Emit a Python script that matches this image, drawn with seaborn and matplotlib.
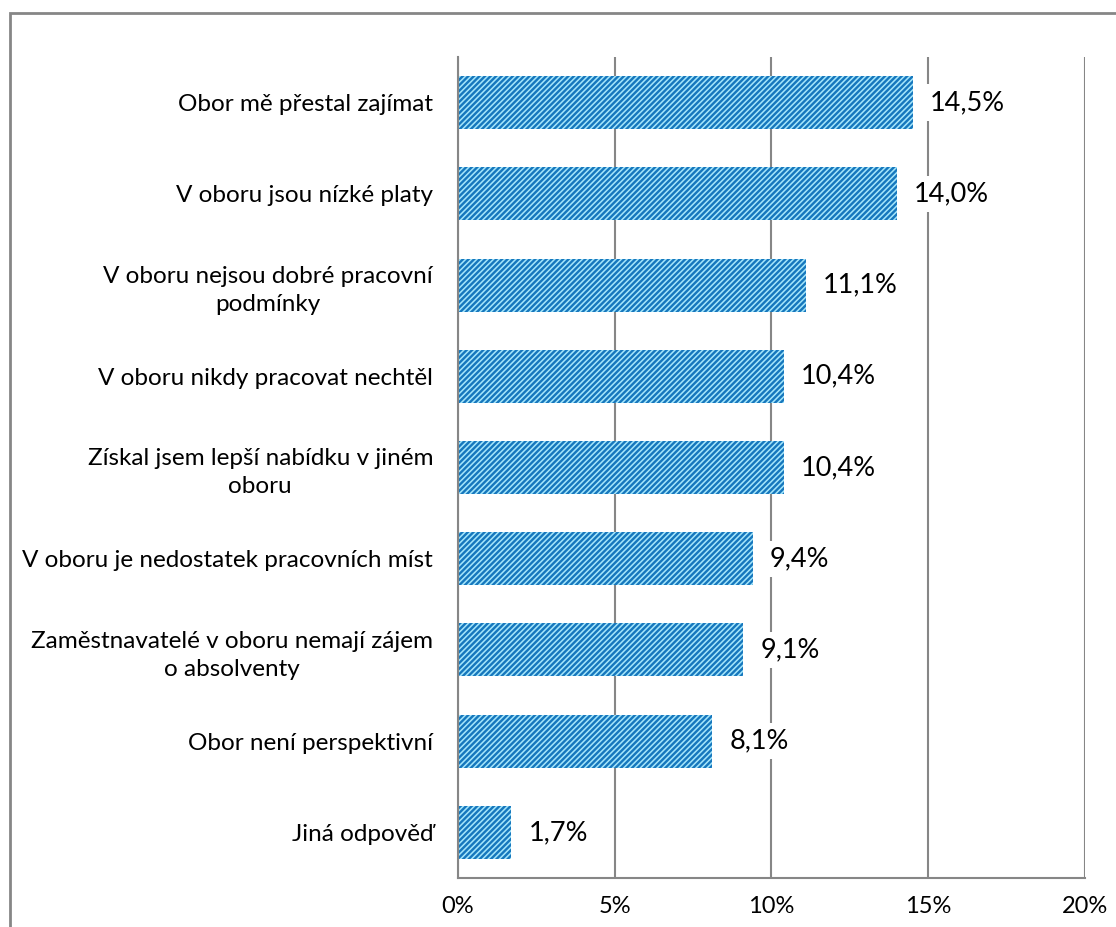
import matplotlib
matplotlib.use("Agg")
import matplotlib.pyplot as plt
import seaborn as sns
import pandas as pd
from matplotlib.patches import Rectangle

categories = [
    "Obor mě přestal zajímat",
    "V oboru jsou nízké platy",
    "V oboru nejsou dobré pracovní\npodmínky",
    "V oboru nikdy pracovat nechtěl",
    "Získal jsem lepší nabídku v jiném\noboru",
    "V oboru je nedostatek pracovních míst",
    "Zaměstnavatelé v oboru nemají zájem\no absolventy",
    "Obor není perspektivní",
    "Jiná odpověď",
]
values = [14.5, 14.0, 11.1, 10.4, 10.4, 9.4, 9.1, 8.1, 1.7]
xticks = [0, 5, 10, 15, 20]
xtick_labels = ["0%", "5%", "10%", "15%", "20%"]

sns.set_style("white")
plt.rcParams["font.family"] = ["Lato", "DejaVu Sans"]
plt.rcParams["hatch.color"] = "#1677bd"
plt.rcParams["hatch.linewidth"] = 1.7

df = pd.DataFrame({"cat": categories, "val": values})

fig = plt.figure(figsize=(11.16, 9.27), dpi=100)
ax = fig.add_axes([458 / 1116, 1 - 878 / 927, (1085 - 458) / 1116, (878 - 57) / 927])

sns.barplot(data=df, y="cat", x="val", orient="h", ax=ax, color="#a5e6fb",
            width=0.58, saturation=1, edgecolor="none", linewidth=0)
for p in ax.patches:
    p.set_hatch("/" * 6)
    p.set_edgecolor("#1677bd")
    p.set_linewidth(0)

ax.set_xlim(0, 20)
ax.set_xticks(xticks)
ax.set_xticklabels(xtick_labels)
ax.set_xlabel("")
ax.set_ylabel("")
ax.xaxis.grid(True, color="#868686", linewidth=1.5)
ax.set_axisbelow(True)
for s in ["top", "right"]:
    ax.spines[s].set_visible(False)
for s in ["left", "bottom"]:
    ax.spines[s].set_color("#868686")
    ax.spines[s].set_linewidth(1.5)
ax.tick_params(axis="both", length=0, colors="black")
ax.tick_params(axis="x", pad=13, labelsize=17)
ax.tick_params(axis="y", pad=18, labelsize=17.5)
for lab in ax.get_yticklabels():
    lab.set_multialignment("center")
    lab.set_linespacing(1.4)

for i, v in enumerate(values):
    ax.text(v + 0.55, i, f"{v:.1f}%".replace(".", ","), va="center", ha="left",
            fontsize=19.5, color="black",
            bbox=dict(facecolor="white", edgecolor="none", pad=4))

frame = Rectangle((10 / 1116, -0.2), 1.5, 1 - 13 / 927 + 0.2, transform=fig.transFigure,
                  fill=False, edgecolor="#868686", linewidth=2, clip_on=False)
fig.patches.append(frame)

fig.savefig("out.png", dpi=100)
